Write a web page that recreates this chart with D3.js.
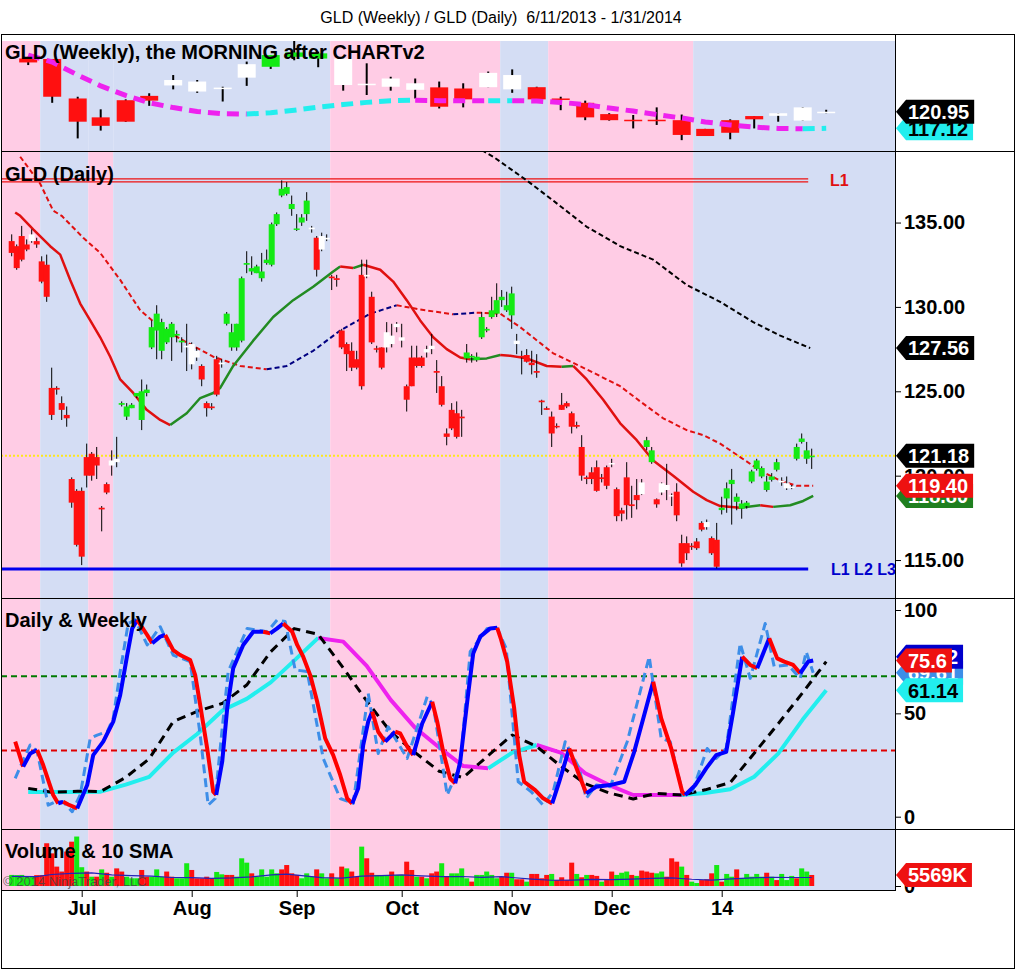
<!DOCTYPE html>
<html>
<head>
<meta charset="utf-8">
<script src="https://d3js.org/d3.v7.min.js"></script>
<style>
body { margin: 0; background: #fff; }
text { font-family: "Liberation Sans", Arial, sans-serif; }
</style>
</head>
<body>
<script>
// ---- daily bars (GLD) ----
var dOpen = [133.9,133.6,134.2,133.7,133.9,133.9,132.7,132.5,125.2,125.2, 124.3,123.6,119.8,119.1,119.1,121.1,121.3,121.1,118.1,119.5,
  120.6,120.8,124.2,123.5,124.0,124.7,123.3,124.9,127.6,128.6, 127.4,127.9,128.2,128.3,127.9,127.6,126.6,127.0,126.5,124.3,
  124.1,126.9,126.6,129.0,127.6,127.6,128.0,132.5,132.1,132.0, 131.7,132.6,132.5,134.9,136.6,136.7,135.8,134.6,135.0,135.5,
  134.6,134.1,133.4,134.0,131.8,131.7,128.6,127.8,127.4,126.9, 131.9,131.8,130.6,127.55,127.6,127.6,127.8,128.8,128.0,125.3,
  127.0,127.0,127.0,127.3,127.5,126.2,125.3,122.5,123.9,123.7, 123.5,126.95,127.0,126.85,128.2,128.6,129.4,129.6,130.4,129.8,
  129.5,127.8,127.1,127.15,126.7,126.2,124.45,124.0,123.5,122.95, 124.2,124.3,123.7,123.0,121.7,119.9,120.2,120.5,119.9,120.5,
  120.7,119.2,117.95,119.9,118.3,118.85,118.9,121.7,120.8,118.6, 119.0,119.15,118.8,119.05,116.0,116.0,115.85,116.1,117.2,116.95,
  116.3,116.2,117.96,118.65,119.5,118.45,118.05,118.2,119.65,120.4, 119.95,119.15,119.75,120.35,119.6,119.25,119.35,121.0,122.0,121.0,
  121.1];
var dHigh = [134.3,133.7,134.8,134.0,134.6,134.1,133.0,133.1,126.4,125.3, 124.7,124.1,119.9,119.2,119.3,121.9,121.4,121.7,118.2,119.6,
  121.5,122.3,124.4,124.3,124.3,124.9,125.7,125.4,129.2,130.1, 129.3,128.8,129.1,128.6,128.2,129.0,127.9,127.6,126.6,124.4,
  124.3,127.1,126.9,129.7,129.0,129.0,131.8,133.3,133.0,132.5, 133.2,133.4,135.0,135.6,137.5,137.4,136.6,135.5,135.5,136.8,
  134.8,134.2,134.4,134.3,131.9,131.9,128.7,127.9,127.9,127.4, 132.8,132.8,130.9,127.7,127.6,129.1,129.0,129.1,129.0,125.4,
  127.7,127.7,127.1,127.7,128.4,126.85,125.9,122.8,124.3,124.4, 123.9,127.8,127.2,127.3,129.7,128.8,130.6,131.4,131.0,130.9,
  131.2,128.4,127.4,127.5,127.4,127.2,124.5,124.1,123.8,123.1, 124.9,124.4,123.8,123.2,122.4,120.0,120.5,120.9,120.1,120.6,
  121.0,119.3,118.1,120.8,119.4,119.8,119.8,122.3,121.7,118.65, 119.6,120.7,118.95,119.55,116.5,116.4,116.0,116.3,117.3,117.4,
  116.4,117.2,118.75,119.6,120.4,118.95,118.55,118.5,120.35,121.0, 120.55,120.0,120.15,121.0,119.9,119.95,119.45,121.9,122.5,122.0,
  121.6];
var dLow = [133.0,132.2,132.7,133.3,133.8,133.5,131.4,130.3,123.3,124.8, 123.3,122.9,118.1,115.8,114.7,119.3,119.7,119.8,116.7,118.9,
  120.0,120.5,124.1,123.3,124.0,124.6,122.7,124.7,127.5,126.9, 126.9,127.8,126.8,127.9,127.3,126.2,126.3,126.8,125.3,123.5,
  123.9,124.7,126.4,128.9,127.4,127.4,127.9,132.0,131.9,132.0, 131.5,132.5,132.4,134.8,136.5,136.6,135.4,134.5,134.8,135.1,
  134.4,131.8,133.3,133.9,131.0,131.2,127.5,126.2,126.2,126.3, 125.1,131.7,127.8,127.3,126.3,127.3,127.6,128.5,127.6,123.8,
  125.3,126.4,126.4,127.0,127.2,124.9,124.1,121.8,122.7,122.2, 122.3,126.7,126.7,126.75,128.1,128.5,129.3,129.4,130.0,129.7,
  128.7,127.2,126.0,126.7,126.0,125.8,123.6,123.9,121.7,122.8, 123.9,124.0,122.5,122.8,119.7,119.5,119.5,119.05,119.6,119.2,
  120.5,117.3,117.3,117.4,117.5,118.0,118.85,121.5,120.7,118.1, 118.85,118.55,118.2,117.3,114.6,115.0,115.6,115.6,116.7,116.8,
  115.3,114.5,117.7,117.8,117.1,117.95,117.45,118.05,119.55,120.3, 119.85,119.05,119.65,120.25,119.4,119.15,119.2,120.9,121.9,120.7,
  120.4];
var dClose = [133.2,132.3,132.8,133.4,134.3,133.7,131.5,130.6,123.6,125.1, 123.9,123.4,118.4,115.9,115.2,120.0,120.0,120.6,118.0,119.0,
  120.9,121.0,124.3,124.1,124.2,124.9,125.0,125.1,128.8,129.6, 129.1,128.7,129.0,128.4,128.0,127.7,127.8,127.4,125.7,124.0,
  124.0,124.8,126.7,129.6,128.5,129.0,131.7,132.6,132.3,132.4, 132.1,132.8,134.9,135.5,137.0,137.1,136.1,134.65,135.3,136.3,
  134.7,132.2,134.2,134.1,131.7,131.6,127.6,127.2,126.4,126.4, 125.3,131.9,127.9,127.5,126.4,128.5,128.3,129.0,128.2,124.5,
  125.3,126.5,126.5,127.5,127.7,126.1,124.2,122.3,122.8,122.3, 123.4,127.3,127.1,127.05,129.4,128.7,129.8,130.4,130.6,130.1,
  130.8,128.0,127.0,126.75,126.55,126.1,124.35,123.9,122.5,122.9, 123.9,124.1,122.9,122.9,120.0,119.8,119.8,119.1,119.8,119.4,
  120.75,117.6,117.75,118.25,118.2,118.55,119.6,122.1,121.5,118.3, 119.55,119.45,118.85,117.65,114.8,115.4,115.8,115.7,116.8,117.25,
  115.4,114.6,118.1,119.25,119.75,118.75,118.35,118.4,120.25,120.9, 120.45,119.65,119.95,120.8,119.7,119.55,119.3,121.7,122.2,121.5,
  121.18];
// bar paint: r = down, g = up, w = neutral
var dState = 'rrrrwrrrrr' + 'rrrrrrrrrr' + 'wwgggggggg' + 'gggggwwwrr' + 'rrwggggggg' + 'gggggggggg' +
  'wrwwrrrrrr' + 'rwrrrwwwwr' + 'rrrwwrrrrr' + 'rggggggggg' + 'gwrrrrrrrr' + 'rrrrrrrrrr' +
  'wrrrrrwggr' + 'wwwrrrrrrw' + 'rrgggggggg' + 'ggggwwwggg' + 'g';

// moving averages on the daily panel: [bar, price]
var maFast = [[0.7,135.6],[1.7,135.4],[4.3,134.6],[7.7,133.6],[9.7,133.1],[11.7,131.6],[13.7,130.2],[15.7,129.2],[17.7,128.2],[19.7,127.05],
  [21.7,125.7],[24.3,124.9],[27,123.9],[29.7,123.3],[31.7,123.0],[35,123.7],[37.7,124.6],[40.3,124.9],[41.7,125.2],[44.3,126.5],
  [48.3,128.0],[52.3,129.4],[56.3,130.4],[60.3,131.2],[64.3,132.1],[65.7,132.4],[68.3,132.3],[70.3,132.5],[73.7,132.2],[76.3,131.5],
  [79,130.4],[81.7,129.2],[84.3,128.2],[87,127.5],[89.7,127.0],[91.7,126.9],[95,126.95],[97.7,127.15],[99.7,127.1],[103,126.95],
  [107,126.5],[110,126.45],[112.3,126.5],[115,125.7],[118.3,124.5],[121.7,123.1],[125,122.1],[128.3,120.9],[132.3,120.0],[136.3,119.05],
  [139,118.55],[141.7,118.2],[145.7,118.1],[149.7,118.25],[152.3,118.15],[155.7,118.25],[158.3,118.5],[160.3,118.8]];
var maSlow = [[1.7,138.9],[5.7,137.3],[8.3,135.7],[10,135.4],[14.3,134.1],[17.7,133.2],[21.7,131.6],[25.7,129.8],[29.7,128.8],[35,127.9],
  [40.3,127.05],[45.7,126.5],[51,126.3],[55,126.5],[60.3,127.4],[65.7,128.6],[71.7,129.6],[77,130.1],[81.7,129.85],[88.3,129.56],
  [93,129.66],[97.7,129.6],[101.7,128.8],[108.3,127.25],[115,126.3],[121.7,125.3],[125.7,124.4],[130.3,123.4],[135,122.7],[138.3,122.4],
  [141.7,121.9],[145.7,121.1],[149.7,120.3],[153.7,119.7],[157,119.4],[160.3,119.4]];
var maLong = [[94,139.3],[96.3,138.9],[103,137.5],[108.3,136.3],[115,134.75],[121.7,133.6],[128.3,132.8],[135,131.3],[141.7,130.3],[148.3,129.1],
  [153.7,128.3],[159.7,127.56]];
var levelL1 = 137.5, levelL3 = 114.47, lastClose = 121.18;

// ---- weekly bars ----
var weekPos = [3.3,8.1,13.2,17.8,22.8,27.5,32.3,37.1,42.2,47,51.8,56.5,61.3,66.3,71,75.8,80.7,85.5,90.3,95.3,
  100.1,105,109.8,114.7,119.5,124.3,129,134,138.7,143.7,148.5,153.3,158.2,162.9];
var wOpen = [133.2,133.1,124.0,119.65,123.6,124.6,127.0,125.6,126.3,128.8,131.3,133.6,133.2,127.1,127.2,126.7,126.0,126.56,126.3,126.6,
  126.1,126.6,124.0,123.0,120.4,119.1,119.1,119.0,117.0,119.0,119.95,120.0,118.9,120.8];
var wHigh = [133.6,133.1,124.4,121.5,123.8,125.2,129.4,128.25,126.7,132.5,134.0,137.4,134.8,133.2,132.1,129.0,128.6,127.9,127.5,130.2,
  130.7,126.7,124.4,123.5,120.6,120.2,121.95,120.3,117.0,119.2,119.95,120.6,122.0,121.4];
var wLow = [131.7,123.0,114.8,116.6,118.6,122.3,126.1,125.3,123.3,126.9,130.8,132.8,131.2,125.8,124.8,125.8,124.0,121.7,121.95,126.6,
  125.3,123.3,121.3,119.0,118.9,117.1,117.9,114.4,115.35,114.6,117.1,118.65,118.9,120.6];
var wClose = [132.3,124.4,118.65,117.7,118.65,123.5,128.25,127.9,126.5,131.9,134.0,134.6,134.4,133.2,127.4,128.6,127.5,122.1,123.8,129.9,
  129.4,123.8,123.8,119.65,119.0,119.0,119.0,115.6,115.35,116.1,119.2,120.6,121.95,120.95];
var wState = 'rrrrrr' + 'wwww' + 'ggg' + 'wwww' + 'rr' + 'ww' + 'rrrrrrrrrr' + 'www';
var wMA = [134.0,132.4,129.4,126.9,124.7,123.0,121.9,121.0,120.5,120.4,120.7,121.3,122.0,122.6,123.1,123.5,123.6,123.5,123.45,123.45,
  123.5,123.4,123.1,122.6,121.8,121.1,120.3,119.5,118.6,117.9,117.4,117.1,117.0,117.12];

// ---- stochastics, daily & weekly ----
var stochMain = [[0.7,36.3],[2.3,24.2],[3.7,30.6],[5.1,32.3],[6.3,25],[8.3,10.5],[9.3,6.4],[10.3,7.2],[11.3,5.9],[13.1,4],
  [15.1,15.3],[16.3,29.8],[18.3,36.3],[20.3,46],[21.7,58.9],[23.1,78.2],[24.1,91.1],[25.1,95.2],[27.1,87.9],[28.1,83.9],
  [29.7,87.1],[30.7,87.9],[32.3,80.6],[33.7,78.2],[35.7,75.8],[36.7,68.5],[37.7,54],[39.1,33],[40.3,12.1],[40.9,10.5],
  [42.1,26.6],[43.1,52.4],[44.3,71.8],[46.3,83.1],[48.3,89.5],[50.3,89.5],[51.7,88.7],[53.1,91.1],[54.3,93.5],[56.1,89.5],
  [57.1,83.1],[58.3,77.4],[59.7,68.5],[61.1,55.6],[62.7,37.9],[64.3,29.8],[65.7,20.2],[67.1,8.8],[68.1,6.4],[69.3,13.7],
  [70.3,34.7],[71.3,46],[72.1,50.8],[73.3,41.1],[74.7,36.3],[76.7,41.1],[77.7,40.3],[79.1,33.9],[80.3,29.8],[82.1,45.1],
  [84.1,55.6],[85.1,46],[86.3,31.4],[87.7,18.5],[88.7,16.1],[89.7,26.6],[91.1,55.6],[92.3,79],[93.7,87.1],[95.7,91.1],
  [97.1,91.4],[97.8,86.3],[99.1,75],[100.5,52.4],[101.5,29.8],[102.5,16.9],[104.7,12.9],[106.3,8.9],[108.1,6.4],[109.5,16.9],
  [111.5,33],[113.1,22.6],[114.9,11.3],[116.9,14.5],[119.7,15.3],[122.5,16.9],[124.5,31.4],[126.5,49.2],[128.3,65.3],[129.9,47.6],
  [131.9,33],[134.1,12.1],[134.7,10.5],[136.7,15.3],[138.9,23.4],[140.9,29.8],[142.9,31.4],[144.3,50.8],[146.1,77.4],[147.7,73.4],
  [149.1,71.8],[151.5,86.3],[153.1,76.6],[154.5,75],[156.3,73.4],[157.7,69.4],[159.3,75],[160.3,75.6]];
var stochFast = [[0.7,18.5],[2.3,27.4],[3.7,34.7],[5.1,31.4],[7.3,5.6],[8.7,7.2],[10.3,7.2],[12.1,2.4],[13.7,10.5],[15.7,37.9],
  [17.1,39.5],[19.1,41.1],[20.3,47.6],[21.7,70.2],[23.3,93.5],[24.7,95.2],[27.1,83.1],[29.7,91.9],[32.3,78.2],[35.7,75],
  [37.7,39.5],[39.3,5.6],[40.7,8.8],[42.1,42.7],[43.3,70.2],[47.1,91.1],[51.1,89.5],[53.1,95.2],[54.7,94.4],[56.7,71],
  [59.1,70.2],[62.3,28.2],[65.7,8.8],[68.3,6.4],[71.3,59.7],[73.3,30.6],[75.3,43.5],[79.1,28.2],[83.1,58.1],[84.3,54],
  [87.1,10.5],[89.7,25],[91.7,79.8],[95.1,91.1],[97.1,91.1],[98.9,81.4],[101.3,16.9],[103.9,12.1],[106.3,5.6],[108.3,12.1],
  [110.7,36.3],[113.5,23.4],[114.9,8.9],[116.9,15.3],[119.7,14.5],[123.1,36.3],[127.5,77.4],[129.9,37.9],[131.7,36.3],[134.3,10.5],
  [136.1,12.1],[139.1,33],[140.9,28.2],[142.9,33],[145.7,83.9],[147.7,66.9],[150.7,93.5],[152.5,72.6],[155.3,73.4],[157.7,66.9],
  [158.9,79.8],[160.3,69.61]];
var wStochK = [12,12,12,12.1,15.5,19.3,31,40,51.5,57,65,75.5,86.5,84.7,73,56.5,43,33.5,24.5,23.4,
  31,34.7,31,21,15.3,10.5,10.5,10.5,11.5,13.3,19.3,30.5,47,61.14];
var wStochD = [13.7,11.8,12.3,12.2,19,28,46,51,54.9,63.7,79.8,91,88.2,72,56,41,31,22,18.9,29.6,
  39.5,34,24.5,16,11.5,8.6,11.3,10.5,13,16.5,30.7,45,60,75];
var stochHigh = 68, stochLow = 32;

// ---- volume (thousands) ----
var volume = [5600,5500,5600,5000,5000,5500,5500,21600,16500,9800, 7300,17400,22400,25000,9500,7300,4700,4700,8400,6700,
  4700,8900,7300,4700,3900,3900,8100,4700,4700,8400, 4700,7300,4700,3900,3900,11500,8100,3900,3900,4700,
  3900,7100,5900,5600,5600,4700,14000,11800,6400,4700, 8400,4700,8400,6400,8400,10600,6400,5600,3900,6400,
  4700,8400,6400,3900,6400,3900,9800,8900,7300,4700, 19900,14000,6700,5600,5600,5600,7300,5600,5600,12300,
  8100,4700,4700,3900,6400,7300,11500,4700,6400,6400, 8900,3900,2200,5600,5600,7300,5600,3900,4700,6700,
  6700,3400,3400,2200,6100,6100,3900,5600,6100,3000, 4400,3000,11800,6100,4400,5600,5600,5100,2200,3000,
  7300,5600,6700,7300,5600,5100,7800,7300,6700,6400, 7300,4700,14000,12300,9800,5600,2200,1500,3000,3400,
  6400,10600,2200,6100,4700,8400,3900,6100,4700,6100, 4700,6700,4700,3000,6100,3000,5100,3900,8900,7300,
  5569];
var volState = 'gggggrrrrr' + 'rrrggrgrgr' + 'grrgggrrgg' + 'grrgggrrrr' + 'rggrrgggrg' + 'ggggrrrrgg' +
  'grggrgrgrr' + 'grrgggrggr' + 'rgrgrrgrgg' + 'ggrgggggrr' + 'grrgrrrrgr' + 'rrrgrgrrgr' +
  'rgggrgrrrg' + 'grrrgrggrr' + 'rgrggrgggg' + 'grgrgggrgg' + 'r';
var volSma = [[0,4900],[5,4700],[8,5800],[12,6400],[16,6600],[20,5600],[24,5200],[28,5000],[32,4300],[36,4200],
  [40,3900],[44,4100],[48,4600],[52,5600],[55,6000],[58,5200],[62,4200],[66,4000],[70,5000],[74,5200],
  [78,5600],[82,5100],[86,4700],[90,4800],[94,4400],[98,4700],[100,4300],[104,3500],[108,2900],[112,3000],
  [116,3300],[120,3200],[124,3500],[128,3900],[132,4100],[136,3400],[140,3000],[144,3600],[148,4100],[152,4400],
  [156,4300],[160,4300]];

// ---- time axis & background regimes ----
var monthIdx = [14,36,57,78,100,120,142];
var monthLbl = ['Jul','Aug','Sep','Oct','Nov','Dec','14'];
var bandEdges = [-2.2,5.7,15.3,20.3,63.7,97.7,107.3,136.3,176.7];
var bandType = ['p','b','p','b','p','b','p','b'];
var weeklyBandType = ['p','b','b','b','p','b','p','b'];

var pink = '#ffcce5', blue = '#d4ddf4';
var cRed = '#ff1010', cGreen = '#14ea14';
var fill = {r: cRed, g: cGreen, w: '#ffffff'};

var svg = d3.select('body').append('svg').attr('width', 1016).attr('height', 970);
svg.append('rect').attr('width', 1016).attr('height', 970).attr('fill', '#fff');

var axisX = 895;
var x = d3.scaleLinear().domain([0, 160]).range([11.7, 811.7]);
var yW = d3.scaleLinear().domain([111.9, 137.24]).range([151, 41]);
var yD = d3.scaleLinear().domain([112.75, 139.24]).range([598, 151]);
var yS = d3.scaleLinear().domain([0, 100]).range([816.7, 610]);
var yV = d3.scaleLinear().domain([0, 27800]).range([886, 831]);

var panels = {
	w: {top: 41, bottom: 151, bands: weeklyBandType},
	d: {top: 151, bottom: 598, bands: bandType},
	s: {top: 598, bottom: 829, bands: bandType},
	v: {top: 829, bottom: 890, bands: bandType}
};
var defs = svg.append('defs');
Object.keys(panels).forEach(function(k) {
	var p = panels[k];
	defs.append('clipPath').attr('id', 'clip' + k).append('rect')
		.attr('x', 1).attr('y', p.top).attr('width', axisX - 1).attr('height', p.bottom - p.top);
	p.g = svg.append('g').attr('clip-path', 'url(#clip' + k + ')');
	p.bands.forEach(function(t, j) {
		p.g.append('rect')
			.attr('x', x(bandEdges[j]))
			.attr('y', p.top)
			.attr('width', x(bandEdges[j + 1]) - x(bandEdges[j]))
			.attr('height', p.bottom - p.top)
			.attr('fill', t == 'p' ? pink : blue);
	});
});

// line coloured by direction (rising / falling)
function dirLine(g, pts, ys, up, down, w, dash) {
	var line = d3.line().x(function(d) { return x(d[0]); }).y(function(d) { return ys(d[1]); });
	var runs = [], cur = null, last = up;
	for (var k = 1; k < pts.length; k++) {
		var dv = pts[k][1] - pts[k - 1][1];
		var c = dv > 0 ? up : (dv < 0 ? down : last);
		last = c;
		if (!cur || cur.c != c) { cur = {c: c, pts: [pts[k - 1]]}; runs.push(cur); }
		cur.pts.push(pts[k]);
	}
	runs.forEach(function(r) {
		g.append('path')
			.attr('d', line(r.pts))
			.attr('fill', 'none')
			.attr('stroke', r.c)
			.attr('stroke-width', w)
			.attr('stroke-dasharray', dash || null)
			.attr('stroke-linejoin', 'round');
	});
}

function candles(g, ys, pos, o, h, l, c, st, bw, ww) {
	var idx = d3.range(o.length);
	g.selectAll(null).data(idx).join('line')
		.attr('x1', function(i) { return x(pos(i)); })
		.attr('x2', function(i) { return x(pos(i)); })
		.attr('y1', function(i) { return ys(h[i]); })
		.attr('y2', function(i) { return ys(l[i]); })
		.attr('stroke', '#000')
		.attr('stroke-width', ww);
	g.selectAll(null).data(idx).join('rect')
		.attr('x', function(i) { return x(pos(i)) - bw / 2; })
		.attr('y', function(i) { return ys(Math.max(o[i], c[i])); })
		.attr('width', bw)
		.attr('height', function(i) { return Math.max(1.5, ys(Math.min(o[i], c[i])) - ys(Math.max(o[i], c[i]))); })
		.attr('fill', function(i) { return fill[st[i]]; });
}

// ---- weekly panel ----
var gw = panels.w.g;
var weekPts = function(vals) { return weekPos.map(function(p, k) { return [p, vals[k]]; }); };
candles(gw, yW, function(i) { return weekPos[i]; }, wOpen, wHigh, wLow, wClose, wState, 18, 2);
dirLine(gw, weekPts(wMA), yW, '#22eeee', '#ee22ee', 5, '12,7');
gw.append('text').attr('x', 5).attr('y', 59).text('GLD (Weekly), the MORNING after CHARTv2')
	.style('font-weight', 'bold').style('font-size', '20px').attr('fill', '#000');

// ---- daily panel ----
var gd = panels.d.g;
gd.append('line').attr('x1', 1).attr('x2', axisX).attr('y1', yD(lastClose)).attr('y2', yD(lastClose))
	.attr('stroke', '#ffe81a').attr('stroke-width', 2).attr('stroke-dasharray', '2,2');
[-1.5, 1.5].forEach(function(off) {
	gd.append('line').attr('x1', 1).attr('x2', x(159.3)).attr('y1', yD(levelL1) + off).attr('y2', yD(levelL1) + off)
		.attr('stroke', '#ee1111').attr('stroke-width', 1.2);
});
gd.append('line').attr('x1', 1).attr('x2', x(159.3)).attr('y1', yD(levelL3)).attr('y2', yD(levelL3))
	.attr('stroke', '#0000ee').attr('stroke-width', 3);
dirLine(gd, maLong, yD, '#000', '#000', 2, '5,3');
dirLine(gd, maSlow, yD, '#000080', '#e01010', 2, '5,3');
dirLine(gd, maFast, yD, '#228b22', '#e01010', 2.5);
candles(gd, yD, function(i) { return i; }, dOpen, dHigh, dLow, dClose, dState, 6, 1);
gd.append('text').attr('x', 5).attr('y', 181).text('GLD (Daily)')
	.style('font-weight', 'bold').style('font-size', '20px');
gd.append('text').attr('x', 830).attr('y', yD(levelL1)).attr('dy', '0.36em').text('L1')
	.style('font-weight', 'bold').style('font-size', '16px').attr('fill', '#e01010');
gd.append('text').attr('x', 831).attr('y', yD(levelL3)).attr('dy', '0.36em').text('L1 L2 L3')
	.style('font-weight', 'bold').style('font-size', '16px').attr('fill', '#0000cc');

// ---- stochastic panel ----
var gs = panels.s.g;
gs.append('line').attr('x1', 1).attr('x2', axisX).attr('y1', yS(stochHigh)).attr('y2', yS(stochHigh))
	.attr('stroke', '#007a00').attr('stroke-width', 2).attr('stroke-dasharray', '6,4');
gs.append('line').attr('x1', 1).attr('x2', axisX).attr('y1', yS(stochLow)).attr('y2', yS(stochLow))
	.attr('stroke', '#e00000').attr('stroke-width', 2).attr('stroke-dasharray', '6,4');
dirLine(gs, weekPts(wStochK), yS, '#22eeee', '#ee22ee', 4);
dirLine(gs, weekPts(wStochD), yS, '#000', '#000', 3, '9,6');
dirLine(gs, stochFast, yS, '#3d8ee8', '#3d8ee8', 3, '9,5');
dirLine(gs, stochMain, yS, '#0000ff', '#ff0000', 4);
gs.append('text').attr('x', 5).attr('y', 627).text('Daily & Weekly')
	.style('font-weight', 'bold').style('font-size', '20px');

// ---- volume panel ----
var gv = panels.v.g;
gv.selectAll(null).data(volume).join('rect')
	.attr('x', function(d, i) { return x(i) - 2.5; })
	.attr('y', function(d) { return yV(d); })
	.attr('width', 5)
	.attr('height', function(d) { return yV(0) - yV(d); })
	.attr('fill', function(d, i) { return volState[i] == 'g' ? cGreen : cRed; });
gv.append('path')
	.attr('d', d3.line().x(function(d) { return x(d[0]); }).y(function(d) { return yV(d[1]); })(volSma))
	.attr('fill', 'none').attr('stroke', '#2323b8').attr('stroke-width', 1.2);
gv.append('text').attr('x', 5).attr('y', 858).text('Volume & 10 SMA')
	.style('font-weight', 'bold').style('font-size', '20px');
gv.append('text').attr('x', 3).attr('y', 886).text('\u00a9 2014 NinjaTrader, LLC')
	.style('font-size', '13px').attr('fill', '#444').attr('fill-opacity', 0.8);

// ---- axes ----
function styleAxis(a) {
	a.select('.domain').remove();
	a.selectAll('line').attr('stroke', '#000');
	a.selectAll('text').style('font-family', '"Liberation Sans", Arial, sans-serif')
		.style('font-weight', 'bold').style('font-size', '20px').attr('fill', '#000');
}
styleAxis(svg.append('g').attr('transform', 'translate(' + axisX + ',0)')
	.call(d3.axisRight(yD).tickValues([115, 120, 125, 130, 135]).tickFormat(d3.format('.2f')).tickSize(6).tickPadding(3)));
styleAxis(svg.append('g').attr('transform', 'translate(' + axisX + ',0)')
	.call(d3.axisRight(yS).tickValues([0, 50, 100]).tickFormat(d3.format('d')).tickSize(6).tickPadding(3)));
styleAxis(svg.append('g').attr('transform', 'translate(' + axisX + ',0)')
	.call(d3.axisRight(yV).tickValues([0]).tickSize(6).tickPadding(3)));
styleAxis(svg.append('g').attr('transform', 'translate(0,890)')
	.call(d3.axisBottom(x).tickValues(monthIdx).tickFormat(function(d, i) { return monthLbl[i]; }).tickSize(7).tickPadding(4)));

// value tags on the right axis
function tag(y, label, bg, fg) {
	var g = svg.append('g');
	var t = g.append('text').attr('x', 908).attr('y', y).attr('dy', '0.36em').text(label)
		.style('font-weight', 'bold').style('font-size', '20px').attr('fill', fg);
	var w = t.node().getComputedTextLength();
	var x2 = 908 + w + 5;
	g.insert('path', 'text')
		.attr('d', 'M896,' + y + 'L906,' + (y - 12) + 'L' + x2 + ',' + (y - 12) + 'L' + x2 + ',' + (y + 12) + 'L906,' + (y + 12) + 'Z')
		.attr('fill', bg);
}
tag(yW(wMA[wMA.length - 1]), '117.12', '#22eeee', '#000');
tag(yW(wClose[wClose.length - 1]), '120.95', '#000', '#fff');
tag(yD(maFast[maFast.length - 1][1]), '118.80', '#1f7f1f', '#fff');
tag(yD(maSlow[maSlow.length - 1][1]), '119.40', '#ee1111', '#fff');
tag(yD(lastClose), '121.18', '#000', '#fff');
tag(yD(maLong[maLong.length - 1][1]), '127.56', '#000', '#fff');
tag(yS(stochFast[stochFast.length - 1][1]), '69.61', '#3d8ee8', '#fff');
tag(yS(wStochK[wStochK.length - 1]), '61.14', '#22eeee', '#000');
tag(yS(77.4), '77.42', '#0000cc', '#fff');
tag(yS(stochMain[stochMain.length - 1][1]), '75.6', '#ee1111', '#fff');
tag(yV(volume[volume.length - 1]), '5569K', '#ee1111', '#fff');

// ---- frame ----
function hline(y, x1, x2) {
	svg.append('line').attr('x1', x1).attr('x2', x2).attr('y1', y).attr('y2', y)
		.attr('stroke', '#000').attr('stroke-width', 1).attr('shape-rendering', 'crispEdges');
}
function vline(xx, y1, y2) {
	svg.append('line').attr('x1', xx).attr('x2', xx).attr('y1', y1).attr('y2', y2)
		.attr('stroke', '#000').attr('stroke-width', 1).attr('shape-rendering', 'crispEdges');
}
hline(34.5, 1, 1014);
hline(151.5, 1, 1014);
hline(598.5, 1, 1014);
hline(829.5, 1, 1014);
hline(890.5, 1, axisX);
hline(968.5, 1, 1014);
vline(1.5, 34, 969);
vline(1014.5, 34, 969);
vline(axisX + 0.5, 34, 891);

svg.append('text').attr('x', 501).attr('y', 23).attr('text-anchor', 'middle')
	.style('white-space', 'pre').style('font-size', '16px')
	.text('GLD (Weekly) / GLD (Daily)  6/11/2013 - 1/31/2014');
</script>
</body>
</html>
